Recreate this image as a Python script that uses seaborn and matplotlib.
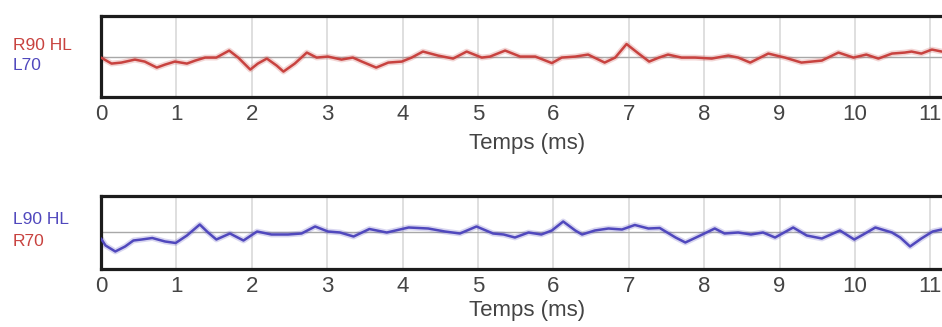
import seaborn as sns
import pandas as pd
import matplotlib.pyplot as plt

# Données (temps en ms, amplitude en unités arbitraires)
t_haut = [0.0, 0.14, 0.27, 0.45, 0.58, 0.74, 0.85, 0.98, 1.14, 1.25, 1.38, 1.53, 1.70, 1.82,
          1.98, 2.08, 2.20, 2.33, 2.42, 2.57, 2.73, 2.86, 3.01, 3.19, 3.34, 3.46, 3.65, 3.81,
          3.99, 4.12, 4.27, 4.47, 4.67, 4.85, 5.05, 5.16, 5.36, 5.56, 5.76, 5.98, 6.11, 6.29,
          6.46, 6.68, 6.82, 6.97, 7.13, 7.27, 7.40, 7.52, 7.70, 7.88, 8.10, 8.32, 8.45, 8.61,
          8.85, 9.07, 9.29, 9.56, 9.78, 9.98, 10.15, 10.31, 10.49, 10.66, 10.75, 10.88, 11.02,
          11.15]
v_haut = [-1, -7, -6, -3, -5, -11, -8, -5, -7, -4, -1, -1, 6, -1,
          -13, -7, -2, -9, -15, -7, 4, -1, 0, -3, -1, -5, -11, -6,
          -5, -1, 5, 1, -2, 5, -1, 0, 6, 0, 0, -6.5, -1, 0,
          2, -6, -1, 12.5, 3, -5, -1, 2, -1, -1, -2, 1, -1, -6,
          3, -1, -6, -4, 4, -1, 2, -2, 3, 4, 5, 3, 7,
          5]

t_bas = [0.0, 0.06, 0.19, 0.32, 0.43, 0.54, 0.68, 0.85, 0.99, 1.14, 1.31, 1.42, 1.53, 1.71,
         1.89, 2.07, 2.26, 2.48, 2.66, 2.84, 3.01, 3.17, 3.35, 3.56, 3.79, 4.08, 4.34, 4.56,
         4.76, 4.98, 5.20, 5.34, 5.49, 5.67, 5.84, 5.98, 6.13, 6.29, 6.38, 6.55, 6.73, 6.91,
         7.08, 7.26, 7.41, 7.62, 7.75, 7.92, 8.14, 8.27, 8.45, 8.62, 8.78, 8.94, 9.18, 9.36,
         9.56, 9.80, 9.99, 10.11, 10.27, 10.49, 10.60, 10.73, 10.88, 11.03, 11.15]
v_bas = [-6, -13, -19, -14, -8, -7, -5.5, -9, -10.5, -3, 8, 0, -7, -1,
         -8, 1, -2, -2, -1, 6, 1, 0, -4, 3.5, 0, 5, 4, 1,
         -1, 6, -1, -2, -5, 0, -2, 2, 11, 2, -2, 2, 4, 3,
         7.5, 4, 4.5, -5, -10, -4, 4, -1, 0, -2, 0, -5, 5, -3,
         -6, 2, -7, -2, 5, 0, -5, -14, -6, 1, 3]

graduations = list(range(0, 12))
rouge = "#c8423f"
bleu = "#5048bd"

sns.set_style("white")
plt.rcParams['font.family'] = ['Liberation Sans', 'DejaVu Sans']

fig = plt.figure(figsize=(9.42, 3.27), dpi=100)

panneaux = [
    # (données, couleur, position, demi-hauteur, écart du titre, étiquettes)
    (t_haut, v_haut, rouge, [0.1072, 0.703, 0.9045, 0.248], 40.5, 6,
     [("R90 HL", rouge, 46), ("L70", bleu, 65)]),
    (t_bas, v_bas, bleu, [0.1072, 0.1774, 0.9045, 0.2232], 36.5, 2,
     [("L90 HL", bleu, 220), ("R70", rouge, 241)]),
]

for t, v, couleur, pos, demi, ecart, etiquettes in panneaux:
    ax = fig.add_axes(pos)
    df = pd.DataFrame({"temps": t, "amp": v})
    ax.axhline(0, color="#a8a8a8", lw=1.0, zorder=1)
    # halo clair sous la trace
    sns.lineplot(data=df, x="temps", y="amp", ax=ax, color=couleur, lw=4.2, alpha=0.22,
                 estimator=None, zorder=2, solid_joinstyle="round")
    sns.lineplot(data=df, x="temps", y="amp", ax=ax, color=couleur, lw=1.8,
                 estimator=None, zorder=3, solid_joinstyle="round")
    ax.set_xlim(0, 11.3)
    ax.set_ylim(-demi, demi)
    ax.set_xticks(graduations)
    ax.set_yticks([])
    ax.xaxis.grid(True, color="#dcdcdc", lw=1.3)
    ax.tick_params(axis="x", length=0, pad=5, labelsize=16, labelcolor="#444444")
    ax.set_xlabel("Temps (ms)", fontsize=16, color="#444444", labelpad=ecart)
    ax.set_ylabel("")
    for s in ax.spines.values():
        s.set_linewidth(2.3)
        s.set_color("#1c1c1c")
    for texte, c, y_px in etiquettes:
        fig.text(13 / 942, 1 - y_px / 327, texte, color=c, fontsize=12.5,
                 ha="left", va="center")

plt.savefig("out.png", dpi=100)
plt.close()
